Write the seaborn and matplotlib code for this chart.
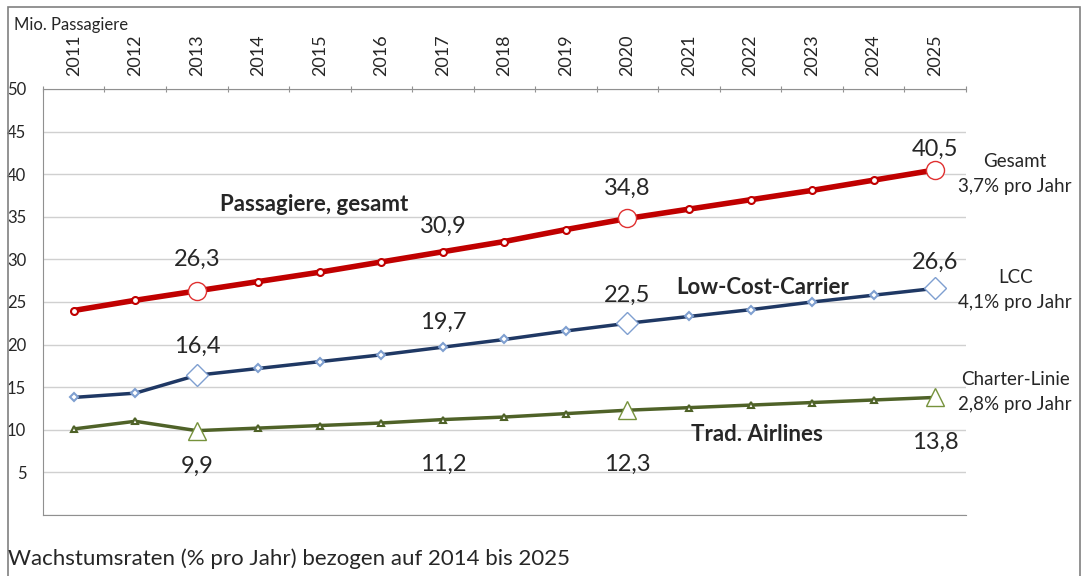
import pandas as pd
import matplotlib.pyplot as plt
import seaborn as sns

years = list(range(2011, 2026))
gesamt = [24.0, 25.2, 26.3, 27.4, 28.5, 29.7, 30.9, 32.1, 33.5, 34.8, 35.9, 37.0, 38.1, 39.3, 40.5]
lcc = [13.8, 14.3, 16.4, 17.2, 18.0, 18.8, 19.7, 20.6, 21.6, 22.5, 23.3, 24.1, 25.0, 25.8, 26.6]
trad = [10.1, 11.0, 9.9, 10.2, 10.5, 10.8, 11.2, 11.5, 11.9, 12.3, 12.6, 12.9, 13.2, 13.5, 13.8]
big_years = [2013, 2020, 2025]
label_years = [2013, 2017, 2020, 2025]

sns.set_style("white")
plt.rcParams["font.family"] = ["Lato", "DejaVu Sans"]

df = pd.DataFrame({"x": range(len(years)), "Jahr": years,
                   "Gesamt": gesamt, "LCC": lcc, "Trad": trad})

fig = plt.figure(figsize=(10.82, 5.76), dpi=100)
ax = fig.add_axes([0.0397, 0.1059, 0.853, 0.7396])

series = [
    ("Gesamt", "#c00000", "#e03030", "o", 4, 5, 13),
    ("LCC", "#1f3864", "#7f9fd0", "D", 2.5, 4.5, 11),
    ("Trad", "#4f6228", "#76923c", "^", 2.5, 5, 13),
]
for col, lc, mc, mk, lw, ms, bigms in series:
    sns.lineplot(data=df, x="x", y=col, ax=ax, color=lc, linewidth=lw,
                 marker=mk, markersize=ms, markerfacecolor="white",
                 markeredgecolor=lc if col != "LCC" else mc, markeredgewidth=1.5, zorder=3)
    big = df[df["Jahr"].isin(big_years)]
    ax.plot(big["x"], big[col], linestyle="none", marker=mk, markersize=bigms,
            markerfacecolor="white", markeredgecolor=mc, markeredgewidth=1, zorder=4)

# data labels (offsets in points)
offs = {"Gesamt": [23, 18, 22, 15], "LCC": [21, 18, 20, 19], "Trad": [-26, -32, -39, -32]}
lab = df[df["Jahr"].isin(label_years)].reset_index(drop=True)
for col, dy in offs.items():
    for i, r in lab.iterrows():
        ax.annotate(f"{r[col]:.1f}".replace(".", ","), (r["x"], r[col]),
                    xytext=(0, dy[i]), textcoords="offset points",
                    ha="center", va="center", fontsize=17)

ax.text(3.9, 36.5, "Passagiere, gesamt", fontsize=16, fontweight="bold", ha="center", va="center")
ax.text(11.2, 26.7, "Low-Cost-Carrier", fontsize=16, fontweight="bold", ha="center", va="center")
ax.text(11.1, 9.5, "Trad. Airlines", fontsize=16, fontweight="bold", ha="center", va="center")

# right side growth notes
for y, t in [(40.0, "Gesamt\n3,7% pro Jahr"), (26.4, "LCC\n4,1% pro Jahr"), (14.4, "Charter-Linie\n2,8% pro Jahr")]:
    ax.text(15.3, y, t, fontsize=13.5, ha="center", va="center", linespacing=1.55)

ax.set_xlim(-0.5, 14.5)
ax.set_ylim(0, 50)
ax.set_yticks(range(0, 51, 5))
ax.set_yticklabels([""] + [str(v) for v in range(5, 51, 5)], fontsize=12)
ax.grid(axis="y", color="#d0d0d0", linewidth=1)
ax.xaxis.tick_top()
ax.set_xticks([i + 0.5 for i in range(-1, 15)])
ax.set_xticklabels([])
ax.set_xticks(df["x"], minor=True)
ax.set_xticklabels(years, minor=True, rotation=90, fontsize=13)
ax.tick_params(axis="x", which="minor", length=0, pad=9)
ax.tick_params(axis="x", which="major", length=5, color="#909090", direction="inout")
ax.tick_params(axis="y", length=8, color="#909090", direction="out", pad=4)
ax.spines["right"].set_visible(False)
for s in ["left", "bottom", "top"]:
    ax.spines[s].set_color("#909090")
ax.set_xlabel("")
ax.set_ylabel("")

fig.text(0.013, 0.957, "Mio. Passagiere", fontsize=12, ha="left", va="center")
fig.text(0.007, 0.03, "Wachstumsraten (% pro Jahr) bezogen auf 2014 bis 2025", fontsize=16, ha="left", va="center")
fig.add_artist(plt.Rectangle((0.007, -0.1), 0.991, 1.088, transform=fig.transFigure,
                             fill=False, edgecolor="#808080", linewidth=1.2))

fig.savefig("out.png", dpi=100)
